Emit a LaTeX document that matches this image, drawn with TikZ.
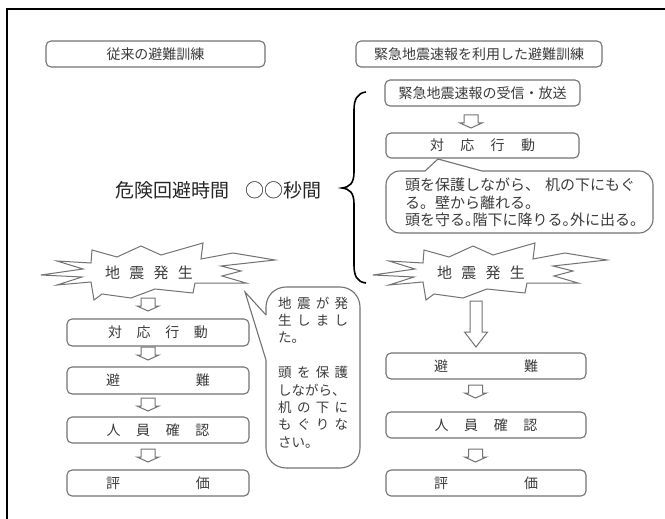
\documentclass[tikz,border=0pt]{standalone}
\usepackage{fontspec}
\setmainfont{Noto Sans CJK JP}
\definecolor{linegray}{RGB}{115,115,115}
\definecolor{txt}{RGB}{60,60,60}
\newcommand{\spr}[2]{\makebox[#1][s]{#2}}
\newcommand{\hwp}{\makebox[0.5em][l]{。}}
\tikzset{
  box/.style={draw=linegray, line width=1.1pt, rounded corners=5pt, inner sep=0pt,
    text=txt, font=\fontsize{14}{16}\selectfont},
  ctext/.style={anchor=west, inner sep=0pt, text=txt},
  burstline/.style={draw=linegray, line width=1pt, line join=miter, fill=white},
  arrowline/.style={draw=linegray, line width=1pt, fill=white},
  calloutline/.style={draw=linegray, line width=1.1pt},
  burst/.pic={
    \draw[burstline] (-108,2) -- (-66,-4) -- (-92,-12) -- (-58,-10) -- (-57,-23) -- (-32,-16)
      -- (-8,-27) -- (12,-18) -- (54,-30) -- (52,-14) -- (84,-20) -- (126,-13) -- (72,-7)
      -- (92,-2) -- (73,3) -- (97,10) -- (46,10) -- (44,20) -- (6,16) -- (-18,25)
      -- (-47,21) -- (-55,27) -- (-58,9) -- (-92,12) -- (-67,4) -- cycle;
  },
  sarrow/.pic={
    \draw[arrowline] (-7,0) -- (7,0) -- (7,8) -- (11,8) -- (0,13) -- (-11,8) -- (-7,8) -- cycle;
  },
  barrow/.pic={
    \draw[arrowline] (-6,0) -- (6,0) -- (6,31) -- (11.5,31) -- (0,46) -- (-11.5,31) -- (-6,31) -- cycle;
  }
}
\begin{document}
\begin{tikzpicture}[x=1pt,y=-1pt]
\useasboundingbox (0,0) rectangle (665,519);
\fill[white] (0,0) rectangle (665,519);
\begin{scope}
\clip (0,0) rectangle (665,519);
\draw[line width=2pt] (7,530) -- (7,9) -- (680,9);
\end{scope}

% titles
\node[box, minimum width=219pt, minimum height=26pt] (t1) at (155.5,54) {従来の避難訓練};
\node[box, minimum width=246pt, minimum height=26pt] (t2) at (479,54) {緊急地震速報を利用した避難訓練};

% right top flow
\node[box, minimum width=195pt, minimum height=26pt] (r1) at (482.5,93) {緊急地震速報の受信・放送};
\pic at (471,115) {sarrow};
\node[box, minimum width=193pt, minimum height=25pt] (r2) at (482.5,145.5) {\spr{105pt}{対\hfill 応\hfill 行\hfill 動}};

% right callout
\draw[calloutline] (425,171) -- (438,159) -- (482,171);
\draw[calloutline, rounded corners=14pt] (482,171) -- (653,171) -- (653,233) -- (386,233) -- (386,171) -- (425,171);
\node[ctext, font=\fontsize{15}{17}\selectfont] (cr1) at (405,185) {頭を保護しながら、\hspace{5pt}机の下にもぐ};
\node[ctext, font=\fontsize{15}{17}\selectfont] (cr2) at (405,202.5) {る。壁から離れる。};
\node[ctext, font=\fontsize{15}{17}\selectfont] (cr3) at (405,220) {頭を守る\hwp 階下に降りる\hwp 外に出る\hwp};

% danger time + brace
\node[inner sep=0pt, text=black!85, font=\fontsize{19}{21}\selectfont] (dt) at (218.5,190) {危険回避時間\hspace{17pt}○○秒間};
\coordinate (bt) at (366,92);
\coordinate (bm) at (342,188);
\coordinate (bb) at (366,283);
\draw[line width=1.6pt, black] (bt) .. controls (357,93) and (354,100) .. (354,110) -- (354,172)
  .. controls (354,183) and (350,187) .. (bm) .. controls (350,189) and (354,193) .. (354,204)
  -- (354,265) .. controls (354,276) and (357,282) .. (bb);

% starbursts
\pic at (149,273) {burst};
\node[inner sep=0pt, text=txt, font=\fontsize{15}{17}\selectfont] (q1) at (149,273) {\spr{88pt}{地\hfill 震\hfill 発\hfill 生}};
\pic at (481,273) {burst};
\node[inner sep=0pt, text=txt, font=\fontsize{15}{17}\selectfont] (q2) at (481,273) {\spr{88pt}{地\hfill 震\hfill 発\hfill 生}};

% left column
\pic at (148,298) {sarrow};
\node[box, minimum width=182pt, minimum height=27pt] (l1) at (158,332.5) {\spr{100pt}{対\hfill 応\hfill 行\hfill 動}};
\pic at (148,347) {sarrow};
\node[box, minimum width=182pt, minimum height=27pt] (l2) at (158,380.5) {\spr{104pt}{避\hfill 難}};
\pic at (148,398) {sarrow};
\node[box, minimum width=182pt, minimum height=26pt] (l3) at (158,430) {\spr{103pt}{人\hfill 員\hfill 確\hfill 認}};
\pic at (148,449) {sarrow};
\node[box, minimum width=182pt, minimum height=26pt] (l4) at (158,483) {\spr{104pt}{評\hfill 価}};

% left callout
\draw[calloutline] (266,315) -- (245,292) -- (266,360);
\draw[calloutline, rounded corners=20pt] (266,360) -- (266,468) -- (360,468) -- (360,287) -- (266,287) -- (266,315);
\begin{scope}[every node/.style={ctext, font=\fontsize{13.5}{15}\selectfont}]
\node (c1) at (278,303) {\spr{70pt}{地\hfill 震\hfill が\hfill 発}};
\node (c2) at (278,320.4) {\spr{70pt}{生\hfill し\hfill ま\hfill し}};
\node (c3) at (278,337.8) {た。};
\node (c4) at (278,372.6) {\spr{70pt}{頭\hfill を\hfill 保\hfill 護}};
\node (c5) at (278,390) {しながら、};
\node (c6) at (278,407.4) {\spr{70pt}{机\hfill の\hfill 下\hfill に}};
\node (c7) at (278,424.8) {\spr{70pt}{も\hfill ぐ\hfill り\hfill な}};
\node (c8) at (278,442.2) {さい。};
\end{scope}

% right column lower
\pic at (476,301) {barrow};
\node[box, minimum width=200pt, minimum height=26pt] (rr1) at (486,366) {\spr{104pt}{避\hfill 難}};
\pic at (475.5,385) {sarrow};
\node[box, minimum width=200pt, minimum height=26pt] (rr2) at (486,425) {\spr{103pt}{人\hfill 員\hfill 確\hfill 認}};
\pic at (475.5,449) {sarrow};
\node[box, minimum width=200pt, minimum height=26pt] (rr3) at (486,483) {\spr{104pt}{評\hfill 価}};
\end{tikzpicture}
\end{document}
